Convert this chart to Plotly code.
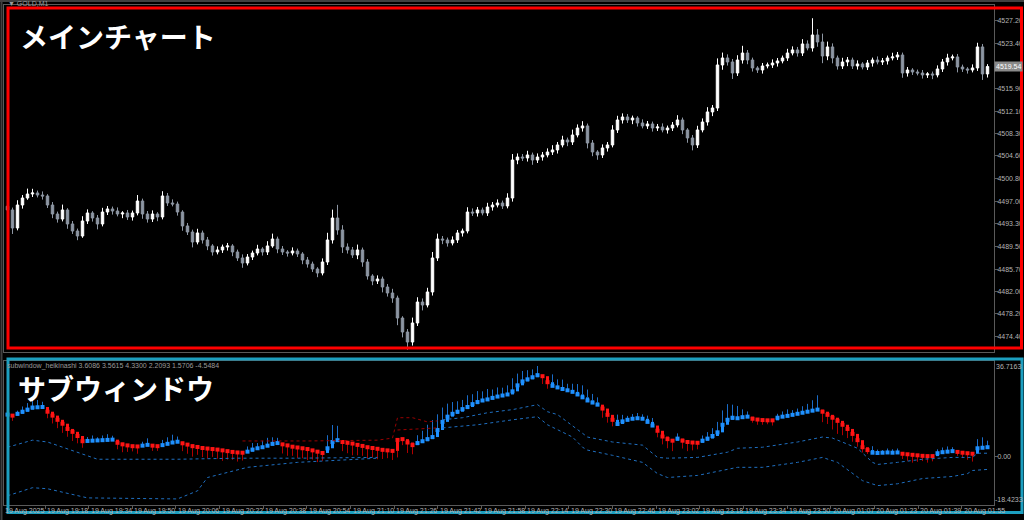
import plotly.graph_objects as go

# ---------------- data ----------------
main_open0 = 4496.20
main_close = [
    4495.57, 4492.56, 4496.40, 4497.57, 4498.24, 4498.41, 4498.07, 4497.91, 4496.40, 4494.90,
    4494.06, 4495.57, 4493.23, 4492.06, 4491.22, 4493.73, 4495.07, 4494.23, 4493.23, 4495.23,
    4495.74, 4495.40, 4494.90, 4495.07, 4494.40, 4495.07, 4497.07, 4494.90, 4494.06, 4494.90,
    4494.40, 4497.91, 4496.74, 4496.57, 4495.23, 4492.90, 4491.89, 4490.22, 4491.73, 4490.56,
    4489.56, 4488.55, 4488.89, 4489.39, 4489.56, 4488.55, 4487.55, 4486.71, 4487.71, 4488.38,
    4489.05, 4488.55, 4489.56, 4490.72, 4489.05, 4488.55, 4488.38, 4488.72, 4488.22, 4487.21,
    4486.54, 4485.71, 4485.04, 4486.88, 4490.56, 4494.23, 4492.23, 4489.39, 4488.89, 4488.05,
    4488.89, 4486.88, 4484.54, 4483.70, 4484.04, 4482.70, 4481.70, 4480.86, 4477.52, 4475.18,
    4473.51, 4476.69, 4480.19, 4479.69, 4481.87, 4487.55, 4490.72, 4490.56, 4490.05, 4490.56,
    4491.73, 4492.06, 4495.23, 4495.07, 4495.57, 4495.07, 4496.07, 4496.40, 4496.74, 4496.24,
    4497.57, 4503.92, 4504.42, 4504.26, 4504.76, 4503.92, 4504.42, 4504.76, 4505.26, 4505.60,
    4506.43, 4507.27, 4506.93, 4508.10, 4509.27, 4509.61, 4506.76, 4505.26, 4504.76, 4505.93,
    4506.43, 4508.94, 4510.61, 4511.11, 4510.61, 4510.94, 4510.11, 4509.61, 4509.94, 4509.27,
    4509.44, 4508.94, 4509.27, 4509.77, 4510.61, 4508.94, 4507.60, 4506.43, 4508.94, 4510.27,
    4511.95, 4512.61, 4519.80, 4520.97, 4520.30, 4518.46, 4520.63, 4521.80, 4520.63, 4519.30,
    4518.96, 4519.63, 4519.80, 4520.13, 4520.47, 4520.97, 4521.80, 4522.31, 4521.80, 4523.31,
    4522.64, 4524.81, 4523.64, 4521.30, 4522.81, 4520.97, 4519.63, 4520.30, 4520.63, 4519.63,
    4519.97, 4519.46, 4520.13, 4520.63, 4520.30, 4520.47, 4520.97, 4521.14, 4521.47, 4518.46,
    4518.96, 4518.63, 4518.46, 4518.13, 4518.30, 4518.13, 4519.13, 4520.30, 4520.97, 4521.14,
    4519.46, 4519.13, 4518.96, 4519.30, 4522.81, 4518.30, 4519.54,
]
upper_wick = [
    0.6, 0.4, 0.8, 0.5, 0.9, 0.7, 0.4, 0.6, 0.3, 0.5,
    0.4, 0.9, 0.3, 0.5, 0.4, 0.8, 0.6, 0.3, 0.5, 0.7,
    0.5, 0.4, 0.6, 0.3, 0.5, 0.4, 1.0, 0.4, 0.5, 0.6,
    0.3, 0.8, 0.5, 0.6, 0.4, 0.3, 0.5, 0.4, 0.7, 0.4,
    0.5, 0.3, 0.6, 0.4, 0.5, 0.3, 0.4, 0.6, 0.5, 0.4,
    0.7, 0.3, 0.8, 0.9, 0.4, 0.5, 0.3, 0.6, 0.4, 0.3,
    0.5, 0.4, 0.3, 0.6, 1.2, 1.4, 2.2, 0.8, 0.6, 0.5,
    0.9, 0.4, 0.5, 0.3, 0.6, 0.4, 0.5, 0.7, 0.4, 0.3,
    0.5, 0.9, 0.8, 0.6, 0.7, 1.0, 0.9, 0.5, 0.4, 0.6,
    0.5, 0.4, 0.8, 0.6, 0.5, 0.4, 0.7, 0.5, 0.6, 0.4,
    0.8, 1.0, 0.6, 0.5, 0.7, 0.4, 0.6, 0.5, 0.6, 0.8,
    0.5, 0.7, 0.4, 0.9, 0.6, 0.8, 0.4, 0.5, 0.3, 0.6,
    0.5, 0.8, 0.7, 0.6, 0.5, 0.4, 0.3, 0.6, 0.5, 0.4,
    0.5, 0.6, 0.4, 0.5, 0.8, 0.4, 0.3, 0.5, 0.7, 0.6,
    0.8, 0.5, 1.1, 0.9, 0.6, 0.5, 0.8, 1.2, 0.5, 0.4,
    0.3, 0.5, 0.4, 0.6, 0.5, 0.4, 0.7, 0.6, 0.5, 0.8,
    0.6, 2.8, 1.0, 1.4, 0.9, 0.6, 0.4, 0.7, 0.5, 0.4,
    0.6, 0.3, 0.5, 0.4, 0.6, 0.5, 0.4, 0.7, 0.5, 0.4,
    0.5, 0.3, 0.4, 0.5, 0.3, 0.4, 0.6, 0.5, 0.7, 0.4,
    0.5, 0.4, 0.3, 0.6, 0.7, 0.5, 0.4,
]
lower_wick = [
    0.5, 1.0, 0.4, 0.6, 0.3, 0.5, 0.4, 0.6, 0.5, 0.7,
    0.6, 0.4, 0.8, 0.5, 0.7, 0.3, 0.5, 0.6, 0.9, 0.4,
    0.5, 0.6, 0.4, 0.7, 0.5, 0.6, 0.4, 0.8, 0.6, 0.5,
    0.7, 0.4, 0.5, 0.4, 0.6, 0.8, 0.5, 0.9, 0.4, 0.6,
    0.7, 0.6, 0.4, 0.5, 0.6, 0.7, 0.5, 0.8, 0.4, 0.5,
    0.4, 0.6, 0.5, 0.3, 0.7, 0.5, 0.6, 0.4, 0.5, 0.7,
    0.6, 0.5, 0.7, 0.4, 0.5, 0.6, 0.8, 1.0, 0.6, 0.5,
    0.7, 0.8, 0.6, 0.7, 0.5, 0.9, 0.6, 0.8, 1.2, 0.9,
    1.3, 0.6, 0.5, 0.9, 0.4, 0.6, 0.5, 0.7, 0.6, 0.4,
    0.5, 0.6, 0.4, 0.5, 0.6, 0.4, 0.5, 0.6, 0.4, 0.5,
    0.4, 0.6, 0.7, 0.5, 0.6, 0.8, 0.5, 0.6, 0.4, 0.5,
    0.6, 0.4, 0.7, 0.5, 0.4, 0.6, 0.9, 0.7, 0.8, 0.5,
    0.6, 0.4, 0.5, 0.6, 0.5, 0.7, 0.6, 0.4, 0.5, 0.6,
    0.5, 0.4, 0.6, 0.5, 0.4, 0.7, 0.8, 0.9, 0.5, 0.4,
    0.6, 0.7, 0.5, 0.8, 0.6, 1.0, 0.5, 0.6, 0.7, 0.6,
    0.5, 0.6, 0.4, 0.5, 0.6, 0.4, 0.5, 0.4, 0.6, 0.5,
    0.4, 0.6, 0.8, 1.2, 0.7, 0.9, 0.6, 0.5, 0.7, 0.5,
    0.6, 0.4, 0.5, 0.6, 0.4, 0.5, 0.6, 0.4, 0.5, 0.8,
    0.6, 0.5, 0.4, 0.6, 0.5, 0.7, 0.4, 0.5, 0.6, 0.4,
    0.9, 0.5, 0.6, 0.4, 0.5, 1.0, 0.6,
]

# sub window (heikin-ashi style oscillator)
sub_open0 = 15.6
sub_close = [
    16.2, 15.8, 16.5, 17.3, 18.1, 18.9, 19.0, 19.1, 17.3, 15.8,
    14.2, 12.7, 10.7, 9.6, 8.0, 6.0, 6.1, 6.2, 6.3, 6.4,
    6.5, 6.6, 5.4, 4.8, 4.4, 4.1, 4.0, 4.3, 4.6, 4.3,
    4.1, 4.5, 5.0, 5.5, 5.8, 5.2, 4.7, 4.1, 3.8, 3.4,
    3.2, 3.0, 2.8, 2.5, 2.2, 1.9, 1.7, 1.6, 2.0, 2.8,
    3.3, 3.7, 4.3, 5.0, 5.3, 4.8, 4.4, 3.9, 3.6, 3.3,
    3.0, 2.5, 2.0, 1.5, 3.3, 5.7, 6.4, 5.7, 5.4, 5.1,
    4.6, 4.2, 3.7, 3.4, 3.1, 2.7, 2.5, 2.3, 6.5, 6.8,
    5.5, 4.5, 5.3, 6.0, 6.8, 7.6, 10.3, 13.4, 15.4, 16.5,
    17.3, 18.3, 19.1, 20.2, 21.0, 21.6, 22.0, 22.6, 23.1, 23.5,
    23.9, 25.1, 27.4, 28.9, 29.7, 30.5, 31.3, 30.9, 28.6, 27.2,
    26.6, 26.0, 25.5, 24.9, 23.9, 22.8, 21.6, 20.8, 20.0, 18.5,
    16.1, 14.2, 12.6, 13.6, 14.2, 14.6, 14.8, 14.6, 13.4, 12.0,
    10.0, 7.8, 6.8, 6.2, 7.0, 6.2, 5.7, 5.5, 5.4, 6.2,
    7.0, 8.0, 9.4, 12.3, 14.2, 15.0, 14.8, 15.2, 15.4, 14.6,
    14.3, 14.1, 14.0, 14.0, 15.0, 15.4, 15.7, 16.1, 16.5, 16.9,
    17.3, 17.7, 18.1, 17.3, 16.1, 15.0, 13.8, 12.3, 10.7, 8.8,
    6.4, 3.7, 2.6, 1.6, 1.5, 1.6, 1.7, 1.6, 1.7, 1.2,
    1.0, 0.8, 0.6, 0.4, 0.3, 0.3, 1.4, 1.8, 2.0, 2.2,
    1.9, 1.6, 1.4, 1.2, 3.3, 3.5, 3.7,
]
sub_wick = [
    1.5, 2.0, 1.2, 2.0, 2.5, 3.0, 2.8, 2.0, 2.5, 3.0,
    3.2, 3.5, 3.0, 3.5, 2.8, 2.5, 1.5, 2.0, 1.2, 1.8,
    2.2, 1.5, 2.5, 3.0, 2.5, 2.0, 2.8, 1.5, 2.5, 2.0,
    1.8, 2.0, 2.5, 3.0, 2.0, 3.0, 3.5, 4.0, 3.0, 3.5,
    3.8, 3.0, 3.5, 4.0, 3.2, 3.0, 3.5, 3.0, 2.0, 2.5,
    2.0, 2.5, 3.0, 2.5, 2.0, 3.5, 4.0, 3.5, 4.0, 3.8,
    4.2, 3.5, 4.0, 3.0, 5.0, 6.5, 5.5, 3.5, 4.0, 4.5,
    4.0, 3.8, 4.2, 3.5, 4.0, 3.5, 3.0, 3.5, 2.5, 2.0,
    4.0, 3.5, 3.0, 4.0, 5.5, 6.5, 6.0, 5.5, 5.0, 4.5,
    4.0, 3.5, 4.5, 3.8, 4.2, 3.5, 4.0, 3.2, 3.5, 3.0,
    3.5, 5.0, 4.5, 4.0, 3.5, 3.0, 3.5, 3.0, 2.5, 3.0,
    2.5, 3.0, 2.0, 2.5, 3.0, 3.5, 3.0, 2.5, 2.0, 3.5,
    3.0, 2.5, 2.0, 2.5, 1.5, 1.8, 2.0, 1.5, 1.2, 1.5,
    2.5, 3.0, 3.5, 4.0, 2.0, 3.0, 3.5, 3.0, 2.5, 2.0,
    2.5, 3.0, 4.0, 5.5, 6.0, 5.0, 4.5, 3.0, 2.0, 1.5,
    2.0, 1.8, 1.5, 2.0, 1.5, 2.0, 2.5, 1.8, 2.0, 2.5,
    3.0, 4.0, 5.5, 4.0, 3.5, 4.5, 5.0, 4.0, 3.5, 3.0,
    2.5, 2.0, 1.5, 1.5, 1.2, 1.0, 1.5, 1.2, 1.5, 2.0,
    2.5, 3.0, 2.5, 2.0, 2.5, 2.0, 1.5, 1.8, 2.0, 1.5,
    1.5, 2.0, 2.5, 3.0, 3.5, 4.0, 2.5,
]
# bar state: U = bullish (blue), D = bearish (red)
sub_state = ("U" + "D" + "U" * 6 + "D" * 8 + "U" * 6 + "D" * 5 + "U" * 2 + "D" * 2 + "U" * 4
             + "D" * 13 + "U" * 7 + "D" * 9 + "U" * 3 + "D" * 15 + "U" * 25 + "D" * 2 + "U" * 10
             + "D" * 3 + "U" * 8 + "D" * 4 + "U" + "D" * 4 + "U" * 10 + "D" * 5 + "U" * 9
             + "D" * 10 + "U" * 6 + "D" * 7 + "U" * 4 + "D" * 4 + "U" * 3)

# dotted band lines (bar index, value)
band1_blue_a_bar = [0, 5, 8, 11, 16, 18, 34, 46, 58, 74]
band1_blue_a_val = [3.7, 6.4, 5.7, 3.7, 0.6, -0.9, -0.9, -0.5, -0.5, -0.2]
band2_blue_a_bar = [0, 5, 8, 16, 34, 38, 40, 48, 58, 74]
band2_blue_a_val = [-14.9, -11.8, -12.2, -15.7, -16.1, -13.0, -7.9, -4.0, -2.1, -0.5]
band1_red_bar = [47, 60, 74, 77, 78, 81, 84, 86]
band1_red_val = [6.1, 6.1, 6.4, 7.2, 15.0, 15.0, 13.4, 13.8]
band2_red_bar = [78, 84, 86]
band2_red_val = [10.3, 11.1, 11.1]
band1_blue_b_bar = [87, 91, 96, 101, 106, 108, 110, 112, 114, 116, 121, 127, 130, 132, 138,
                    144, 146, 151, 158, 163, 165, 170, 173, 174, 178, 183, 189, 193, 194, 196]
band1_blue_b_val = [14.2, 15.0, 16.9, 18.1, 20.0, 17.3, 16.2, 13.4, 10.3, 7.6, 5.7, 4.5, -0.2,
                    -0.5, -0.2, 1.8, 3.3, 3.7, 5.7, 7.6, 7.2, 3.3, -2.1, -2.9, -2.1, -0.9, -0.2,
                    -0.2, 1.4, 1.4]
band2_blue_b_bar = [87, 94, 101, 106, 108, 110, 113, 115, 116, 121, 127, 130, 132, 138, 146,
                    151, 158, 163, 166, 171, 174, 178, 183, 189, 192, 193, 196]
band2_blue_b_val = [11.1, 12.3, 14.2, 15.4, 12.3, 10.3, 7.6, 3.7, 2.6, 0.6, -2.1, -6.4, -7.9,
                    -7.1, -4.0, -4.0, -2.1, -0.2, -2.1, -9.1, -11.0, -10.3, -8.3, -7.5, -6.4,
                    -5.2, -4.8]

price_ticks = [4474.40, 4478.20, 4482.00, 4485.70, 4489.50, 4493.30, 4497.00, 4500.80,
               4504.60, 4508.30, 4512.10, 4515.90, 4523.40, 4527.20]
current_price = 4519.54
sub_max, sub_min = 36.7163, -18.4233
time_labels = ["19 Aug 19:18", "19 Aug 19:34", "19 Aug 19:50", "19 Aug 20:06", "19 Aug 20:22",
               "19 Aug 20:38", "19 Aug 20:54", "19 Aug 21:10", "19 Aug 21:26", "19 Aug 21:42",
               "19 Aug 21:58", "19 Aug 22:14", "19 Aug 22:30", "19 Aug 22:46", "19 Aug 23:02",
               "19 Aug 23:18", "19 Aug 23:34", "19 Aug 23:50", "20 Aug 01:07", "20 Aug 01:23",
               "20 Aug 01:39", "20 Aug 01:55"]
first_label = "19 Aug 2025"
sub_title = "subwindow_heikinashi 3.6086 3.5615 4.3300 2.2093 1.5706 -4.5484"

# ---------------- build ----------------
n = len(main_close)
xs = list(range(n))
opens = [main_open0] + main_close[:-1]
highs = [max(o, c) + u for o, c, u in zip(opens, main_close, upper_wick)]
lows = [min(o, c) - d for o, c, d in zip(opens, main_close, lower_wick)]

fig = go.Figure()
fig.add_trace(go.Candlestick(
    x=xs, open=opens, high=highs, low=lows, close=main_close,
    increasing=dict(line=dict(color="#ffffff", width=1), fillcolor="#ffffff"),
    decreasing=dict(line=dict(color="#8d96a3", width=1), fillcolor="#8d96a3"),
    whiskerwidth=0, xaxis="x", yaxis="y", hoverinfo="skip", showlegend=False))

sub_open = [sub_open0] + sub_close[:-1]
styles = {"U": ("#1e90ff", "#1a6cc8"), "D": ("#ff1414", "#b00000")}
for key, (body_col, wick_col) in styles.items():
    wx, wy, bx, by, mx, my = [], [], [], [], [], []
    for i in range(n):
        if sub_state[i] != key:
            continue
        o, c, w = sub_open[i], sub_close[i], sub_wick[i]
        lo, hi = min(o, c), max(o, c)
        if key == "U":
            wx += [i, i, None]; wy += [hi, hi + w, None]
        else:
            wx += [i, i, None]; wy += [lo, lo - w, None]
        bx += [i, i, None]; by += [o, c, None]
        mx.append(i); my.append(c)
    fig.add_trace(go.Scatter(x=wx, y=wy, mode="lines", line=dict(color=wick_col, width=1),
                             xaxis="x2", yaxis="y2", hoverinfo="skip", showlegend=False))
    fig.add_trace(go.Scatter(x=bx, y=by, mode="lines", line=dict(color=body_col, width=3),
                             xaxis="x2", yaxis="y2", hoverinfo="skip", showlegend=False))
    fig.add_trace(go.Scatter(x=mx, y=my, mode="markers",
                             marker=dict(symbol="square", size=4, color=body_col, line=dict(width=0)),
                             xaxis="x2", yaxis="y2", hoverinfo="skip", showlegend=False))

for bx_, bv_, col in [(band1_blue_a_bar, band1_blue_a_val, "#1f6fc0"),
                      (band2_blue_a_bar, band2_blue_a_val, "#1f6fc0"),
                      (band1_red_bar, band1_red_val, "#9a0000"),
                      (band2_red_bar, band2_red_val, "#9a0000"),
                      (band1_blue_b_bar, band1_blue_b_val, "#1f6fc0"),
                      (band2_blue_b_bar, band2_blue_b_val, "#1f6fc0")]:
    fig.add_trace(go.Scatter(x=bx_, y=bv_, mode="lines", line=dict(color=col, width=1, dash="dot"),
                             xaxis="x2", yaxis="y2", hoverinfo="skip", showlegend=False))

# ---------------- layout ----------------
W, H = 1024, 520
ML, MR, MT, MB = 4, 30, 5, 15
PW, PH = W - ML - MR, H - MT - MB


def px_x(p):
    return (p - ML) / PW


def px_y(p):
    return (H - MB - p) / PH


main_dom = [px_y(352), 1.0]
sub_dom = [0.0, px_y(361)]
xr = [-0.7, n + 0.3]
axis_col = "#5a5a5a"
txt_col = "#b4b4b4"
tick_font = dict(family="Liberation Sans, Arial, sans-serif", size=7, color=txt_col)

tick_pos = [7.5 + 8.73 * k for k in range(len(time_labels))]

fig.update_layout(
    width=W, height=H, margin=dict(l=ML, r=MR, t=MT, b=MB, autoexpand=False),
    paper_bgcolor="#000000", plot_bgcolor="#000000", showlegend=False,
    xaxis=dict(domain=[0, 1], anchor="y", range=xr, showticklabels=False, showgrid=False,
               zeroline=False, rangeslider=dict(visible=False), showline=True,
               linecolor=axis_col, linewidth=1, mirror=True, ticks="", automargin=False),
    yaxis=dict(domain=main_dom, anchor="x", range=[4471.84, 4529.82], side="right",
               tickvals=price_ticks, ticktext=[f"{v:.2f}" for v in price_ticks],
               showgrid=False, zeroline=False, showline=True, linecolor=axis_col, mirror=True,
               ticks="outside", ticklen=3, tickcolor=axis_col, tickfont=tick_font,
               ticklabelstandoff=-2, automargin=False),
    xaxis2=dict(domain=[0, 1], anchor="y2", range=xr, matches="x", showgrid=False,
                zeroline=False, showline=True, linecolor=axis_col, mirror=True,
                tickvals=tick_pos, ticktext=[""] * len(tick_pos), ticks="outside",
                ticklen=3, tickcolor=axis_col, automargin=False),
    yaxis2=dict(domain=sub_dom, anchor="x2", range=[sub_min, sub_max], side="right",
                tickvals=[0], ticktext=["0.00"], showgrid=False, zeroline=False,
                showline=True, linecolor=axis_col, mirror=True, ticks="outside", ticklen=3,
                tickcolor=axis_col, tickfont=tick_font, ticklabelstandoff=-2,
                automargin=False),
)

small_font = dict(family="Liberation Sans, Arial", size=7, color=txt_col)
ann = []
# time labels (MT style: text starts at the tick)
ann.append(dict(xref="paper", yref="paper", x=px_x(3), y=px_y(511), text=first_label,
                showarrow=False, xanchor="left", yanchor="middle", font=small_font))
for p, t in zip(tick_pos, time_labels):
    ann.append(dict(xref="x2", yref="paper", x=p, y=px_y(511), text=t, showarrow=False,
                    xanchor="left", yanchor="middle", xshift=0, font=small_font))
# sub-window extreme labels
ann.append(dict(xref="paper", yref="y2", x=1.0, y=sub_max, text=f"{sub_max:.4f}", showarrow=False,
                xanchor="left", yanchor="top", xshift=0, font=tick_font))
ann.append(dict(xref="paper", yref="y2", x=1.0, y=sub_min, text=f"{sub_min:.4f}", showarrow=False,
                xanchor="left", yanchor="bottom", xshift=-1, font=tick_font))
# current price box
ann.append(dict(xref="paper", yref="y", x=1.0, y=current_price, text=f"{current_price:.2f}",
                showarrow=False, xanchor="left", yanchor="middle", xshift=0,
                bgcolor="#8a8a8a", borderpad=1,
                font=dict(family="Liberation Sans, Arial", size=7, color="#ffffff")))
# titles
ann.append(dict(xref="paper", yref="paper", x=px_x(6), y=px_y(4), text="▼ GOLD,M1",
                showarrow=False, xanchor="left", yanchor="middle",
                font=dict(family="Liberation Sans, Arial", size=7, color="#9a9a9a")))
ann.append(dict(xref="paper", yref="paper", x=px_x(5), y=px_y(366), text=sub_title,
                showarrow=False, xanchor="left", yanchor="middle",
                font=dict(family="Liberation Sans, Arial", size=7, color="#9a9a9a")))
ann.append(dict(xref="paper", yref="paper", x=px_x(18), y=px_y(36), text="<b>メインチャート</b>",
                showarrow=False, xanchor="left", yanchor="middle",
                font=dict(family="Noto Sans CJK JP", size=28, color="#ffffff")))
ann.append(dict(xref="paper", yref="paper", x=px_x(16), y=px_y(388), text="<b>サブウィンドウ</b>",
                showarrow=False, xanchor="left", yanchor="middle",
                font=dict(family="Noto Sans CJK JP", size=28, color="#ffffff")))
fig.update_layout(annotations=ann)

shapes = [
    # window frame
    dict(type="line", xref="paper", yref="paper", x0=px_x(1.5), x1=px_x(1.5), y0=px_y(0), y1=px_y(520),
         line=dict(color="#404040", width=2), layer="above"),
    dict(type="line", xref="paper", yref="paper", x0=px_x(0), x1=px_x(1024), y0=px_y(1), y1=px_y(1),
         line=dict(color="#404040", width=2), layer="above"),
    # highlight rectangles
    dict(type="rect", xref="paper", yref="paper", x0=px_x(8), x1=px_x(1021.5), y0=px_y(348),
         y1=px_y(8), line=dict(color="#ff0000", width=3), fillcolor="rgba(0,0,0,0)", layer="above"),
    dict(type="rect", xref="paper", yref="paper", x0=px_x(8), x1=px_x(1022), y0=px_y(512.5),
         y1=px_y(359), line=dict(color="#1c9fc0", width=3), fillcolor="rgba(0,0,0,0)", layer="above"),
]
fig.update_layout(shapes=shapes)

fig.write_html("out.html", config={"displayModeBar": False},
               post_script="document.body.style.margin='0';document.body.style.overflow='hidden';"
                           "document.body.style.background='#000';")
